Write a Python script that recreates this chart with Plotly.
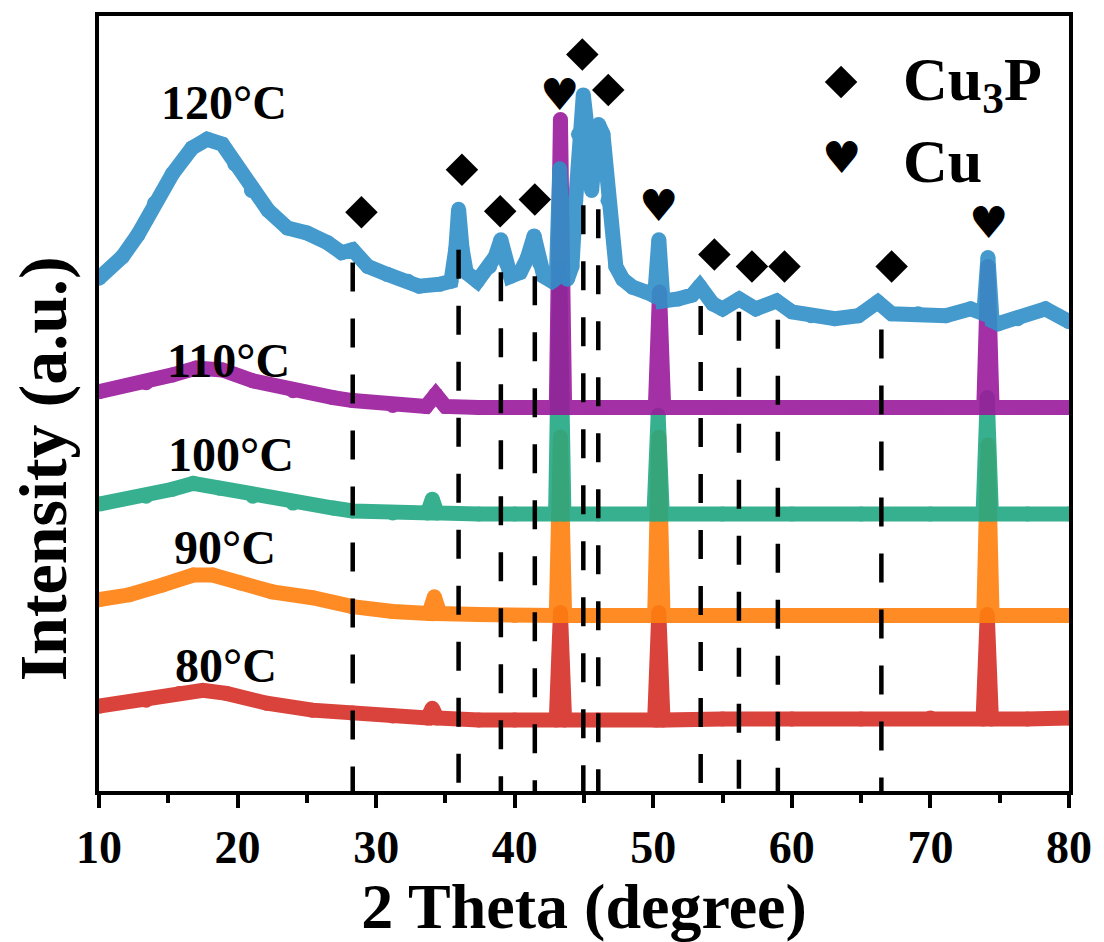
import plotly.graph_objects as go

# ---------------- data (2-theta in degree, intensity in a.u.) ----------------
x_80 = [10.0, 13.4, 15.8, 17.5, 19.2, 22.1, 25.4, 28.3, 31.2, 33.7, 34.05, 34.4, 37.4, 40.0,
        43.0, 43.3, 43.6, 46.0, 50.1, 50.4, 50.7, 55.0, 60.0, 65.0, 70.0, 73.8, 74.1, 74.4, 77.0, 80.0]
i_80 = [86, 92, 99, 102, 99, 89, 82, 79, 76, 74, 84, 74, 72, 72,
        72, 181, 72, 72, 72, 181, 72, 73, 73, 73, 74, 73, 179, 73, 73, 74]

x_90 = [10.0, 12.2, 14.6, 16.8, 18.2, 20.2, 22.5, 25.4, 28.3, 31.2, 33.8, 34.2, 34.6, 37.4, 40.0,
        43.0, 43.3, 43.6, 46.0, 50.1, 50.4, 50.7, 55.0, 60.0, 65.0, 70.0, 73.85, 74.15, 74.45, 77.0, 80.0]
i_90 = [94, 99, 109, 119, 119, 111, 102, 96, 87, 82, 80, 97, 80, 79, 78,
        78, 259, 78, 78, 78, 259, 78, 78, 78, 78, 78, 78, 251, 78, 78, 78]

x_100 = [10.0, 13.4, 15.3, 16.8, 18.7, 21.1, 24.0, 26.9, 28.3, 31.2, 33.7, 34.05, 34.4, 37.4, 40.0,
         42.95, 43.25, 43.55, 46.0, 50.05, 50.35, 50.65, 55.0, 60.0, 65.0, 70.0, 73.8, 74.1, 74.4, 77.0, 80.0]
i_100 = [91, 99, 106, 112, 107, 99, 92, 87, 84, 82, 82, 96, 82, 81, 81,
         81, 330, 81, 81, 81, 181, 81, 81, 81, 81, 81, 81, 199, 81, 81, 81]

x_110 = [10.0, 13.4, 15.3, 17.0, 18.9, 21.1, 24.0, 26.9, 28.3, 31.2, 33.6, 34.3, 35.0, 37.4, 40.0,
         43.0, 43.3, 43.6, 46.0, 50.15, 50.45, 50.75, 55.0, 60.0, 65.0, 70.0, 73.85, 74.15, 74.45, 77.0, 80.0]
i_110 = [105, 114, 122, 129, 127, 116, 106, 99, 96, 91, 90, 102, 90, 89, 89,
         89, 381, 89, 89, 89, 206, 89, 89, 89, 89, 89, 89, 232, 89, 89, 89]

x_120 = [10.0, 11.7, 12.8, 14.0, 15.3, 16.7, 17.8, 18.9, 19.8, 21.0, 22.2, 23.6, 25.0, 26.5, 27.5,
         28.3, 29.4, 30.8, 32.3, 33.1, 34.6, 35.4, 35.75, 35.95, 36.2, 36.5, 37.3, 38.2, 38.6, 39.0,
         39.4, 39.7, 40.4, 40.9, 41.4, 41.8, 42.1, 42.7, 43.0, 43.25, 43.5, 43.8, 44.13, 44.4, 44.6,
         44.95, 45.25, 45.55, 45.8, 46.05, 46.37, 46.73, 47.3, 47.8, 48.5, 49.5, 50.1, 50.4, 50.7,
         51.8, 52.8, 53.35, 54.3, 55.0, 56.2, 57.4, 58.9, 60.0, 61.4, 63.1, 64.8, 66.2, 67.2, 69.1,
         71.1, 72.9, 73.85, 74.15, 74.45, 74.9, 76.3, 78.3, 80.0]
i_120 = [120, 142, 164, 196, 226, 252, 261, 256, 236, 209, 189, 171, 166, 156, 146,
         149, 132, 124, 117, 112, 114, 117, 150, 190, 150, 126, 117, 132, 142, 159,
         135, 122, 126, 140, 163, 135, 122, 117, 120, 231, 125, 119, 132, 199, 266,
         306, 269, 209, 249, 276, 266, 199, 132, 119, 111, 106, 102, 159, 97,
         99, 103, 112, 94, 89, 99, 89, 97, 86, 82, 79, 82, 96, 84, 84,
         82, 89, 84, 141, 77, 74, 79, 89, 76]

series_x = [x_80, x_90, x_100, x_110, x_120]
series_i = [i_80, i_90, i_100, i_110, i_120]
offsets = [0, 100, 200, 300, 400]
labels = ["80°C", "90°C", "100°C", "110°C", "120°C"]
colors = ["#D62F27", "#FF7F0E", "#22A884", "#9A1A9C", "#3190C8"]
label_x = [19.15, 19.07, 19.5, 19.36, 19.0]
label_y = [127, 247, 341, 437, 698]

# reference peak positions (dashed lines) and their upper ends
ref_x = [28.31, 35.95, 39.0, 41.45, 44.95, 46.03, 53.42, 56.18, 58.99, 66.46]
ref_top = [536, 549, 526, 522, 594, 590, 492, 486, 478, 468]

# phase markers (Cu3P diamonds, Cu hearts), last diamond / heart = key
cu3p_x = [28.94, 36.19, 38.95, 41.45, 44.88, 46.75, 54.41, 57.12, 59.47, 67.2, 63.55]
cu3p_y = [587, 630, 588, 600, 747, 711, 544, 532, 532, 532, 719]
cu_x = [43.25, 50.40, 74.17]
cu_y = [706, 594, 577]

x_ticks = [10, 20, 30, 40, 50, 60, 70, 80]

SERIF = "Liberation Serif, Times New Roman, serif"
SYM = "DejaVu Sans"

fig = go.Figure()
for xs, ys, off, col, name in zip(series_x, series_i, offsets, colors, labels):
    fig.add_trace(go.Scatter(
        x=xs, y=[v + off for v in ys], mode="lines+markers", name=name,
        line=dict(color=col, width=15), marker=dict(color=col, size=15),
        opacity=0.9, showlegend=False, hoverinfo="skip"))

fig.add_trace(go.Scatter(x=cu3p_x, y=cu3p_y, mode="markers", showlegend=False, hoverinfo="skip",
                         marker=dict(symbol="diamond", size=25, color="black", line=dict(width=0))))

shapes = []
for xv, top in zip(ref_x, ref_top):
    shapes.append(dict(type="line", xref="x", yref="y", x0=xv, x1=xv, y0=top, y1=0,
                       line=dict(color="black", width=4.5, dash="29px,27px"), layer="above"))

ann = []
for t, xv, yv in zip(labels, label_x, label_y):
    ann.append(dict(x=xv, y=yv, xref="x", yref="y", text=t, showarrow=False,
                    font=dict(family=SERIF, size=48, color="black", weight="bold")))
for xv, yv in zip(cu_x, cu_y):
    ann.append(dict(x=xv, y=yv, xref="x", yref="y", text="♥", showarrow=False,
                    font=dict(family=SYM, size=44, color="black")))
# key
ann.append(dict(x=63.55, y=642, xref="x", yref="y", text="♥", showarrow=False,
                font=dict(family=SYM, size=44, color="black")))
ann.append(dict(x=67.9, y=718, xref="x", yref="y", text="Cu<sub>3</sub>P", showarrow=False,
                xanchor="left", font=dict(family=SERIF, size=62, color="black", weight="bold")))
ann.append(dict(x=67.9, y=639, xref="x", yref="y", text="Cu", showarrow=False,
                xanchor="left", font=dict(family=SERIF, size=62, color="black", weight="bold")))
# y-axis title
ann.append(dict(x=-0.058, y=0.416, xref="paper", yref="paper", text="Intensity (a.u.)",
                textangle=-90, showarrow=False, xanchor="center", yanchor="middle",
                font=dict(family=SERIF, size=68, color="black", weight="bold")))

fig.update_layout(
    width=1104, height=942,
    margin=dict(l=99, r=32, t=13, b=143),
    paper_bgcolor="white", plot_bgcolor="white",
    shapes=shapes, annotations=ann,
    xaxis=dict(range=[10, 80], tickvals=x_ticks, ticks="outside", ticklen=13, tickwidth=4,
               tickcolor="black", showline=True, linewidth=4, linecolor="black", mirror=True,
               showgrid=False, zeroline=False,
               minor=dict(ticks="outside", ticklen=8, tickwidth=4, tickcolor="black", dtick=5,
                          showgrid=False),
               tickfont=dict(family=SERIF, size=46, color="black", weight="bold"),
               title=dict(text="2 Theta (degree)", standoff=12,
                          font=dict(family=SERIF, size=64, color="black", weight="bold"))),
    yaxis=dict(range=[0, 786], showticklabels=False, ticks="", showline=True, linewidth=4,
               linecolor="black", mirror=True, showgrid=False, zeroline=False),
)

fig.write_html("out.html")
